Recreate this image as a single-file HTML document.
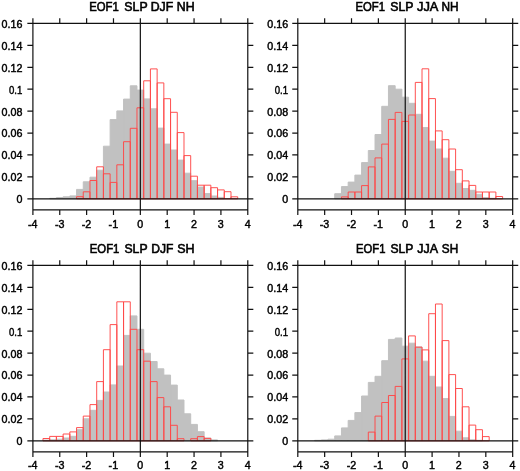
<!DOCTYPE html>
<html><head><meta charset="utf-8"><title>EOF1 SLP histograms</title>
<style>
html,body{margin:0;padding:0;background:#fff;}
svg{display:block;will-change:transform;}
text{font-family:"Liberation Sans",Arial,Helvetica,sans-serif;fill:#000;stroke:#000;stroke-width:0.42px;}
.t{font-size:12.1px;stroke-width:0.58px;}
.l{font-size:10.2px;}
.y{text-anchor:end;}
.x{text-anchor:middle;}
</style></head><body>
<svg width="520" height="471" viewBox="0 0 520 471">
<rect width="520" height="471" fill="#fff"/>
<g>
<path d="M49.69 198.8V198.3H56.4V198.8ZM56.4 198.8V197.55H63.12V198.8ZM63.12 198.8V196.8H69.83V198.8ZM69.83 198.8V195.9H76.55V198.8ZM76.55 198.8V189.4H83.26V198.8ZM83.26 198.8V181.8H89.98V198.8ZM89.98 198.8V177.2H96.69V198.8ZM96.69 198.8V170.2H103.41V198.8ZM103.41 198.8V146.2H110.12V198.8ZM110.12 198.8V119.6H116.84V198.8ZM116.84 198.8V110.9H123.55V198.8ZM123.55 198.8V99.1H130.27V198.8ZM130.27 198.8V85.8H136.98V198.8ZM136.98 198.8V90.1H143.7V198.8ZM143.7 198.8V98.9H150.41V198.8ZM150.41 198.8V108.8H157.13V198.8ZM157.13 198.8V128.1H163.84V198.8ZM163.84 198.8V144.1H170.56V198.8ZM170.56 198.8V150H177.27V198.8ZM177.27 198.8V160.1H183.99V198.8ZM183.99 198.8V173.2H190.7V198.8ZM190.7 198.8V180.7H197.42V198.8ZM197.42 198.8V187.1H204.13V198.8ZM204.13 198.8V193.6H210.85V198.8ZM210.85 198.8V196H217.56V198.8ZM217.56 198.8V197.4H224.28V198.8Z" fill="#c1c1c1" stroke="#c1c1c1" stroke-width="1"/>
<path d="M76.55 198.8V196.7H83.26V198.8ZM83.26 198.8V191.8H89.98V198.8ZM89.98 198.8V180.5H96.69V198.8ZM96.69 198.8V166.8H103.41V198.8ZM103.41 198.8V173.8H110.12V198.8ZM110.12 198.8V182.4H116.84V198.8ZM116.84 198.8V164.8H123.55V198.8ZM123.55 198.8V141.7H130.27V198.8ZM130.27 198.8V128.3H136.98V198.8ZM136.98 198.8V107.8H143.7V198.8ZM143.7 198.8V80.8H150.41V198.8ZM150.41 198.8V68.9H157.13V198.8ZM157.13 198.8V82.9H163.84V198.8ZM163.84 198.8V98.7H170.56V198.8ZM170.56 198.8V112.3H177.27V198.8ZM177.27 198.8V132.6H183.99V198.8ZM183.99 198.8V155.6H190.7V198.8ZM190.7 198.8V176.2H197.42V198.8ZM197.42 198.8V185.2H204.13V198.8ZM204.13 198.8V185.2H210.85V198.8ZM210.85 198.8V187.7H217.56V198.8ZM217.56 198.8V189.9H224.28V198.8ZM224.28 198.8V191.7H230.99V198.8ZM230.99 198.8V196.8H237.71V198.8Z" fill="none" stroke="#ff4848" stroke-width="0.95"/>
<path d="M32.9 23.45H247.78V209.85H32.9ZM27.35 198.8H253.33M140.34 18.25V215.05M27.35 23.45H32.9M247.78 23.45H253.33M27.35 45.37H32.9M247.78 45.37H253.33M27.35 67.29H32.9M247.78 67.29H253.33M27.35 89.21H32.9M247.78 89.21H253.33M27.35 111.12H32.9M247.78 111.12H253.33M27.35 133.04H32.9M247.78 133.04H253.33M27.35 154.96H32.9M247.78 154.96H253.33M27.35 176.88H32.9M247.78 176.88H253.33M32.9 18.25V23.45M32.9 209.85V215.05M59.76 18.25V23.45M59.76 209.85V215.05M86.62 18.25V23.45M86.62 209.85V215.05M113.48 18.25V23.45M113.48 209.85V215.05M167.2 18.25V23.45M167.2 209.85V215.05M194.06 18.25V23.45M194.06 209.85V215.05M220.92 18.25V23.45M220.92 209.85V215.05M247.78 18.25V23.45M247.78 209.85V215.05" fill="none" stroke="#111" stroke-width="1.2"/>
<text class="t" y="10.9"><tspan x="89.13" textLength="29.56" lengthAdjust="spacingAndGlyphs">EOF1</tspan> <tspan x="124.39" textLength="23.03" lengthAdjust="spacingAndGlyphs">SLP</tspan> <tspan x="150.76" textLength="22.47" lengthAdjust="spacingAndGlyphs">DJF</tspan> <tspan x="176.85" textLength="17.83" lengthAdjust="spacingAndGlyphs">NH</tspan></text>
<text class="l y" x="22.35" y="27.85" textLength="20.84" lengthAdjust="spacingAndGlyphs">0.16</text>
<text class="l y" x="22.35" y="49.77" textLength="20.84" lengthAdjust="spacingAndGlyphs">0.14</text>
<text class="l y" x="22.35" y="71.69" textLength="20.84" lengthAdjust="spacingAndGlyphs">0.12</text>
<text class="l y" x="22.35" y="93.61" textLength="13.33" lengthAdjust="spacingAndGlyphs">0.1</text>
<text class="l y" x="22.35" y="115.53" textLength="20.84" lengthAdjust="spacingAndGlyphs">0.08</text>
<text class="l y" x="22.35" y="137.44" textLength="20.84" lengthAdjust="spacingAndGlyphs">0.06</text>
<text class="l y" x="22.35" y="159.36" textLength="20.84" lengthAdjust="spacingAndGlyphs">0.04</text>
<text class="l y" x="22.35" y="181.28" textLength="20.84" lengthAdjust="spacingAndGlyphs">0.02</text>
<text class="l y" x="22.35" y="203.2" textLength="5.95" lengthAdjust="spacingAndGlyphs">0</text>
<text class="l x" x="32.8" y="228" textLength="9.52" lengthAdjust="spacingAndGlyphs">-4</text>
<text class="l x" x="59.66" y="228" textLength="9.52" lengthAdjust="spacingAndGlyphs">-3</text>
<text class="l x" x="86.52" y="228" textLength="9.52" lengthAdjust="spacingAndGlyphs">-2</text>
<text class="l x" x="113.38" y="228" textLength="9.52" lengthAdjust="spacingAndGlyphs">-1</text>
<text class="l x" x="140.24" y="228" textLength="5.95" lengthAdjust="spacingAndGlyphs">0</text>
<text class="l x" x="167.1" y="228" textLength="5.95" lengthAdjust="spacingAndGlyphs">1</text>
<text class="l x" x="193.96" y="228" textLength="5.95" lengthAdjust="spacingAndGlyphs">2</text>
<text class="l x" x="220.82" y="228" textLength="5.95" lengthAdjust="spacingAndGlyphs">3</text>
<text class="l x" x="247.68" y="228" textLength="5.95" lengthAdjust="spacingAndGlyphs">4</text>
</g>
<g>
<path d="M334.73 198.8V193.7H341.45V198.8ZM341.45 198.8V186.6H348.16V198.8ZM348.16 198.8V182.1H354.88V198.8ZM354.88 198.8V175.1H361.59V198.8ZM361.59 198.8V162.6H368.31V198.8ZM368.31 198.8V150.5H375.02V198.8ZM375.02 198.8V134.5H381.74V198.8ZM381.74 198.8V106.3H388.45V198.8ZM388.45 198.8V85.7H395.17V198.8ZM395.17 198.8V89.2H401.88V198.8ZM401.88 198.8V97.2H408.6V198.8ZM408.6 198.8V103.3H415.31V198.8ZM415.31 198.8V114.3H422.03V198.8ZM422.03 198.8V127.6H428.74V198.8ZM428.74 198.8V141.1H435.46V198.8ZM435.46 198.8V149H442.17V198.8ZM442.17 198.8V158.2H448.89V198.8ZM448.89 198.8V171.3H455.6V198.8ZM455.6 198.8V183.3H462.32V198.8ZM462.32 198.8V188.5H469.03V198.8ZM469.03 198.8V190.3H475.75V198.8ZM475.75 198.8V194.3H482.46V198.8ZM482.46 198.8V197.6H489.18V198.8ZM489.18 198.8V198.3H495.89V198.8Z" fill="#c1c1c1" stroke="#c1c1c1" stroke-width="1"/>
<path d="M341.45 198.8V196.9H348.16V198.8ZM348.16 198.8V192H354.88V198.8ZM354.88 198.8V192H361.59V198.8ZM361.59 198.8V185.6H368.31V198.8ZM368.31 198.8V166.9H375.02V198.8ZM375.02 198.8V157.9H381.74V198.8ZM381.74 198.8V144.1H388.45V198.8ZM388.45 198.8V119.4H395.17V198.8ZM395.17 198.8V112.4H401.88V198.8ZM401.88 198.8V121.4H408.6V198.8ZM408.6 198.8V115H415.31V198.8ZM415.31 198.8V82.4H422.03V198.8ZM422.03 198.8V68.8H428.74V198.8ZM428.74 198.8V98.6H435.46V198.8ZM435.46 198.8V130.9H442.17V198.8ZM442.17 198.8V139.7H448.89V198.8ZM448.89 198.8V149H455.6V198.8ZM455.6 198.8V169.7H462.32V198.8ZM462.32 198.8V180.9H469.03V198.8ZM469.03 198.8V185.4H475.75V198.8ZM475.75 198.8V192H482.46V198.8ZM482.46 198.8V192H489.18V198.8ZM489.18 198.8V192H495.89V198.8ZM495.89 198.8V196.5H502.61V198.8Z" fill="none" stroke="#ff4848" stroke-width="0.95"/>
<path d="M297.8 23.45H512.68V209.85H297.8ZM292.25 198.8H518.23M405.24 18.25V215.05M292.25 23.45H297.8M512.68 23.45H518.23M292.25 45.37H297.8M512.68 45.37H518.23M292.25 67.29H297.8M512.68 67.29H518.23M292.25 89.21H297.8M512.68 89.21H518.23M292.25 111.12H297.8M512.68 111.12H518.23M292.25 133.04H297.8M512.68 133.04H518.23M292.25 154.96H297.8M512.68 154.96H518.23M292.25 176.88H297.8M512.68 176.88H518.23M297.8 18.25V23.45M297.8 209.85V215.05M324.66 18.25V23.45M324.66 209.85V215.05M351.52 18.25V23.45M351.52 209.85V215.05M378.38 18.25V23.45M378.38 209.85V215.05M432.1 18.25V23.45M432.1 209.85V215.05M458.96 18.25V23.45M458.96 209.85V215.05M485.82 18.25V23.45M485.82 209.85V215.05M512.68 18.25V23.45M512.68 209.85V215.05" fill="none" stroke="#111" stroke-width="1.2"/>
<text class="t" y="10.9"><tspan x="355.59" textLength="29.45" lengthAdjust="spacingAndGlyphs">EOF1</tspan> <tspan x="390.34" textLength="22.97" lengthAdjust="spacingAndGlyphs">SLP</tspan> <tspan x="417" textLength="20.73" lengthAdjust="spacingAndGlyphs">JJA</tspan> <tspan x="441.44" textLength="17.1" lengthAdjust="spacingAndGlyphs">NH</tspan></text>
<text class="l y" x="288.1" y="27.85" textLength="20.84" lengthAdjust="spacingAndGlyphs">0.16</text>
<text class="l y" x="288.1" y="49.77" textLength="20.84" lengthAdjust="spacingAndGlyphs">0.14</text>
<text class="l y" x="288.1" y="71.69" textLength="20.84" lengthAdjust="spacingAndGlyphs">0.12</text>
<text class="l y" x="288.1" y="93.61" textLength="13.33" lengthAdjust="spacingAndGlyphs">0.1</text>
<text class="l y" x="288.1" y="115.53" textLength="20.84" lengthAdjust="spacingAndGlyphs">0.08</text>
<text class="l y" x="288.1" y="137.44" textLength="20.84" lengthAdjust="spacingAndGlyphs">0.06</text>
<text class="l y" x="288.1" y="159.36" textLength="20.84" lengthAdjust="spacingAndGlyphs">0.04</text>
<text class="l y" x="288.1" y="181.28" textLength="20.84" lengthAdjust="spacingAndGlyphs">0.02</text>
<text class="l y" x="288.1" y="203.2" textLength="5.95" lengthAdjust="spacingAndGlyphs">0</text>
<text class="l x" x="297.7" y="228" textLength="9.52" lengthAdjust="spacingAndGlyphs">-4</text>
<text class="l x" x="324.56" y="228" textLength="9.52" lengthAdjust="spacingAndGlyphs">-3</text>
<text class="l x" x="351.42" y="228" textLength="9.52" lengthAdjust="spacingAndGlyphs">-2</text>
<text class="l x" x="378.28" y="228" textLength="9.52" lengthAdjust="spacingAndGlyphs">-1</text>
<text class="l x" x="405.14" y="228" textLength="5.95" lengthAdjust="spacingAndGlyphs">0</text>
<text class="l x" x="432" y="228" textLength="5.95" lengthAdjust="spacingAndGlyphs">1</text>
<text class="l x" x="458.86" y="228" textLength="5.95" lengthAdjust="spacingAndGlyphs">2</text>
<text class="l x" x="485.72" y="228" textLength="5.95" lengthAdjust="spacingAndGlyphs">3</text>
<text class="l x" x="512.58" y="228" textLength="5.95" lengthAdjust="spacingAndGlyphs">4</text>
</g>
<g>
<path d="M42.97 440.8V440.1H49.69V440.8ZM49.69 440.8V439.8H56.4V440.8ZM56.4 440.8V439.2H63.12V440.8ZM63.12 440.8V438H69.83V440.8ZM69.83 440.8V436.3H76.55V440.8ZM76.55 440.8V429.7H83.26V440.8ZM83.26 440.8V418.8H89.98V440.8ZM89.98 440.8V410.3H96.69V440.8ZM96.69 440.8V400.4H103.41V440.8ZM103.41 440.8V392H110.12V440.8ZM110.12 440.8V384.9H116.84V440.8ZM116.84 440.8V366H123.55V440.8ZM123.55 440.8V335.4H130.27V440.8ZM130.27 440.8V315.9H136.98V440.8ZM136.98 440.8V329.3H143.7V440.8ZM143.7 440.8V353.2H150.41V440.8ZM150.41 440.8V361.5H157.13V440.8ZM157.13 440.8V368.8H163.84V440.8ZM163.84 440.8V375.1H170.56V440.8ZM170.56 440.8V385.1H177.27V440.8ZM177.27 440.8V400H183.99V440.8ZM183.99 440.8V413.8H190.7V440.8ZM190.7 440.8V424.4H197.42V440.8ZM197.42 440.8V431.7H204.13V440.8ZM204.13 440.8V438H210.85V440.8ZM210.85 440.8V439.9H217.56V440.8Z" fill="#c1c1c1" stroke="#c1c1c1" stroke-width="1"/>
<path d="M42.97 440.8V438.5H49.69V440.8ZM49.69 440.8V436.4H56.4V440.8ZM56.4 440.8V436.4H63.12V440.8ZM63.12 440.8V434H69.83V440.8ZM69.83 440.8V431.9H76.55V440.8ZM76.55 440.8V427.6H83.26V440.8ZM83.26 440.8V416.1H89.98V440.8ZM89.98 440.8V404.6H96.69V440.8ZM96.69 440.8V381.6H103.41V440.8ZM103.41 440.8V349.7H110.12V440.8ZM110.12 440.8V324.6H116.84V440.8ZM116.84 440.8V301.8H123.55V440.8ZM123.55 440.8V301.8H130.27V440.8ZM130.27 440.8V329.3H136.98V440.8ZM136.98 440.8V349.7H143.7V440.8ZM143.7 440.8V361.2H150.41V440.8ZM150.41 440.8V381.6H157.13V440.8ZM157.13 440.8V397.6H163.84V440.8ZM163.84 440.8V406.8H170.56V440.8ZM170.56 440.8V425.3H177.27V440.8ZM177.27 440.8V438.7H183.99V440.8ZM190.7 440.8V438.7H197.42V440.8ZM197.42 440.8V436.6H204.13V440.8ZM204.13 440.8V438.4H210.85V440.8Z" fill="none" stroke="#ff4848" stroke-width="0.95"/>
<path d="M32.9 265.45H247.78V451.85H32.9ZM27.35 440.8H253.33M140.34 260.25V457.05M27.35 265.45H32.9M247.78 265.45H253.33M27.35 287.37H32.9M247.78 287.37H253.33M27.35 309.29H32.9M247.78 309.29H253.33M27.35 331.21H32.9M247.78 331.21H253.33M27.35 353.12H32.9M247.78 353.12H253.33M27.35 375.04H32.9M247.78 375.04H253.33M27.35 396.96H32.9M247.78 396.96H253.33M27.35 418.88H32.9M247.78 418.88H253.33M32.9 260.25V265.45M32.9 451.85V457.05M59.76 260.25V265.45M59.76 451.85V457.05M86.62 260.25V265.45M86.62 451.85V457.05M113.48 260.25V265.45M113.48 451.85V457.05M167.2 260.25V265.45M167.2 451.85V457.05M194.06 260.25V265.45M194.06 451.85V457.05M220.92 260.25V265.45M220.92 451.85V457.05M247.78 260.25V265.45M247.78 451.85V457.05" fill="none" stroke="#111" stroke-width="1.2"/>
<text class="t" y="252.9"><tspan x="89.78" textLength="29.61" lengthAdjust="spacingAndGlyphs">EOF1</tspan> <tspan x="124.45" textLength="22.87" lengthAdjust="spacingAndGlyphs">SLP</tspan> <tspan x="151.33" textLength="22.09" lengthAdjust="spacingAndGlyphs">DJF</tspan> <tspan x="177.23" textLength="17.37" lengthAdjust="spacingAndGlyphs">SH</tspan></text>
<text class="l y" x="22.35" y="269.85" textLength="20.84" lengthAdjust="spacingAndGlyphs">0.16</text>
<text class="l y" x="22.35" y="291.77" textLength="20.84" lengthAdjust="spacingAndGlyphs">0.14</text>
<text class="l y" x="22.35" y="313.69" textLength="20.84" lengthAdjust="spacingAndGlyphs">0.12</text>
<text class="l y" x="22.35" y="335.61" textLength="13.33" lengthAdjust="spacingAndGlyphs">0.1</text>
<text class="l y" x="22.35" y="357.52" textLength="20.84" lengthAdjust="spacingAndGlyphs">0.08</text>
<text class="l y" x="22.35" y="379.44" textLength="20.84" lengthAdjust="spacingAndGlyphs">0.06</text>
<text class="l y" x="22.35" y="401.36" textLength="20.84" lengthAdjust="spacingAndGlyphs">0.04</text>
<text class="l y" x="22.35" y="423.28" textLength="20.84" lengthAdjust="spacingAndGlyphs">0.02</text>
<text class="l y" x="22.35" y="445.2" textLength="5.95" lengthAdjust="spacingAndGlyphs">0</text>
<text class="l x" x="32.8" y="469" textLength="9.52" lengthAdjust="spacingAndGlyphs">-4</text>
<text class="l x" x="59.66" y="469" textLength="9.52" lengthAdjust="spacingAndGlyphs">-3</text>
<text class="l x" x="86.52" y="469" textLength="9.52" lengthAdjust="spacingAndGlyphs">-2</text>
<text class="l x" x="113.38" y="469" textLength="9.52" lengthAdjust="spacingAndGlyphs">-1</text>
<text class="l x" x="140.24" y="469" textLength="5.95" lengthAdjust="spacingAndGlyphs">0</text>
<text class="l x" x="167.1" y="469" textLength="5.95" lengthAdjust="spacingAndGlyphs">1</text>
<text class="l x" x="193.96" y="469" textLength="5.95" lengthAdjust="spacingAndGlyphs">2</text>
<text class="l x" x="220.82" y="469" textLength="5.95" lengthAdjust="spacingAndGlyphs">3</text>
<text class="l x" x="247.68" y="469" textLength="5.95" lengthAdjust="spacingAndGlyphs">4</text>
</g>
<g>
<path d="M314.59 440.8V440.3H321.3V440.8ZM321.3 440.8V439.9H328.02V440.8ZM328.02 440.8V439.2H334.73V440.8ZM334.73 440.8V435.9H341.45V440.8ZM341.45 440.8V427.9H348.16V440.8ZM348.16 440.8V420.4H354.88V440.8ZM354.88 440.8V412.6H361.59V440.8ZM361.59 440.8V396H368.31V440.8ZM368.31 440.8V382.4H375.02V440.8ZM375.02 440.8V376.3H381.74V440.8ZM381.74 440.8V360.7H388.45V440.8ZM388.45 440.8V339.4H395.17V440.8ZM395.17 440.8V338H401.88V440.8ZM401.88 440.8V346.2H408.6V440.8ZM408.6 440.8V343.2H415.31V440.8ZM415.31 440.8V346.9H422.03V440.8ZM422.03 440.8V361.2H428.74V440.8ZM428.74 440.8V376.3H435.46V440.8ZM435.46 440.8V387H442.17V440.8ZM442.17 440.8V398.6H448.89V440.8ZM448.89 440.8V416.4H455.6V440.8ZM455.6 440.8V431.2H462.32V440.8ZM462.32 440.8V437.8H469.03V440.8ZM469.03 440.8V439.8H475.75V440.8ZM475.75 440.8V440.3H482.46V440.8Z" fill="#c1c1c1" stroke="#c1c1c1" stroke-width="1"/>
<path d="M368.31 440.8V432.1H375.02V440.8ZM375.02 440.8V416.1H381.74V440.8ZM381.74 440.8V402.5H388.45V440.8ZM388.45 440.8V395.5H395.17V440.8ZM395.17 440.8V386.4H401.88V440.8ZM401.88 440.8V358.9H408.6V440.8ZM408.6 440.8V335.9H415.31V440.8ZM415.31 440.8V347.2H422.03V440.8ZM422.03 440.8V349.9H428.74V440.8ZM428.74 440.8V313.7H435.46V440.8ZM435.46 440.8V304H442.17V440.8ZM442.17 440.8V340.6H448.89V440.8ZM448.89 440.8V374.6H455.6V440.8ZM455.6 440.8V388.5H462.32V440.8ZM462.32 440.8V406.8H469.03V440.8ZM469.03 440.8V425.1H475.75V440.8ZM475.75 440.8V429.7H482.46V440.8ZM482.46 440.8V436.6H489.18V440.8Z" fill="none" stroke="#ff4848" stroke-width="0.95"/>
<path d="M297.8 265.45H512.68V451.85H297.8ZM292.25 440.8H518.23M405.24 260.25V457.05M292.25 265.45H297.8M512.68 265.45H518.23M292.25 287.37H297.8M512.68 287.37H518.23M292.25 309.29H297.8M512.68 309.29H518.23M292.25 331.21H297.8M512.68 331.21H518.23M292.25 353.12H297.8M512.68 353.12H518.23M292.25 375.04H297.8M512.68 375.04H518.23M292.25 396.96H297.8M512.68 396.96H518.23M292.25 418.88H297.8M512.68 418.88H518.23M297.8 260.25V265.45M297.8 451.85V457.05M324.66 260.25V265.45M324.66 451.85V457.05M351.52 260.25V265.45M351.52 451.85V457.05M378.38 260.25V265.45M378.38 451.85V457.05M432.1 260.25V265.45M432.1 451.85V457.05M458.96 260.25V265.45M458.96 451.85V457.05M485.82 260.25V265.45M485.82 451.85V457.05M512.68 260.25V265.45M512.68 451.85V457.05" fill="none" stroke="#111" stroke-width="1.2"/>
<text class="t" y="252.9"><tspan x="356.09" textLength="29.35" lengthAdjust="spacingAndGlyphs">EOF1</tspan> <tspan x="390.55" textLength="22.66" lengthAdjust="spacingAndGlyphs">SLP</tspan> <tspan x="417.21" textLength="20.13" lengthAdjust="spacingAndGlyphs">JJA</tspan> <tspan x="441.86" textLength="16.33" lengthAdjust="spacingAndGlyphs">SH</tspan></text>
<text class="l y" x="288.1" y="269.85" textLength="20.84" lengthAdjust="spacingAndGlyphs">0.16</text>
<text class="l y" x="288.1" y="291.77" textLength="20.84" lengthAdjust="spacingAndGlyphs">0.14</text>
<text class="l y" x="288.1" y="313.69" textLength="20.84" lengthAdjust="spacingAndGlyphs">0.12</text>
<text class="l y" x="288.1" y="335.61" textLength="13.33" lengthAdjust="spacingAndGlyphs">0.1</text>
<text class="l y" x="288.1" y="357.52" textLength="20.84" lengthAdjust="spacingAndGlyphs">0.08</text>
<text class="l y" x="288.1" y="379.44" textLength="20.84" lengthAdjust="spacingAndGlyphs">0.06</text>
<text class="l y" x="288.1" y="401.36" textLength="20.84" lengthAdjust="spacingAndGlyphs">0.04</text>
<text class="l y" x="288.1" y="423.28" textLength="20.84" lengthAdjust="spacingAndGlyphs">0.02</text>
<text class="l y" x="288.1" y="445.2" textLength="5.95" lengthAdjust="spacingAndGlyphs">0</text>
<text class="l x" x="297.7" y="469" textLength="9.52" lengthAdjust="spacingAndGlyphs">-4</text>
<text class="l x" x="324.56" y="469" textLength="9.52" lengthAdjust="spacingAndGlyphs">-3</text>
<text class="l x" x="351.42" y="469" textLength="9.52" lengthAdjust="spacingAndGlyphs">-2</text>
<text class="l x" x="378.28" y="469" textLength="9.52" lengthAdjust="spacingAndGlyphs">-1</text>
<text class="l x" x="405.14" y="469" textLength="5.95" lengthAdjust="spacingAndGlyphs">0</text>
<text class="l x" x="432" y="469" textLength="5.95" lengthAdjust="spacingAndGlyphs">1</text>
<text class="l x" x="458.86" y="469" textLength="5.95" lengthAdjust="spacingAndGlyphs">2</text>
<text class="l x" x="485.72" y="469" textLength="5.95" lengthAdjust="spacingAndGlyphs">3</text>
<text class="l x" x="512.58" y="469" textLength="5.95" lengthAdjust="spacingAndGlyphs">4</text>
</g>
</svg>
</body></html>
